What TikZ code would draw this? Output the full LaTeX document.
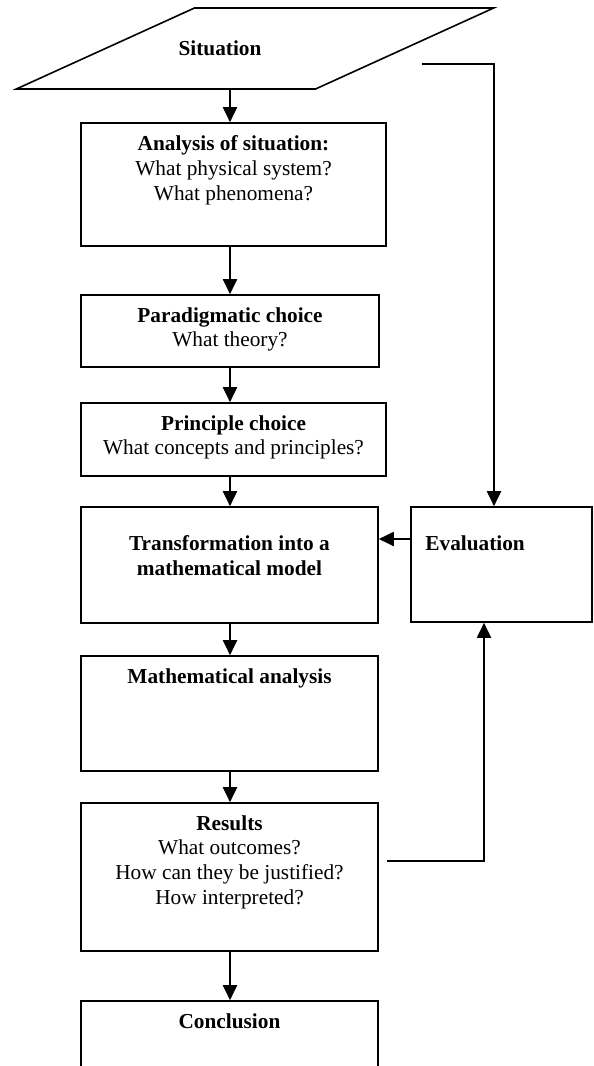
\documentclass[tikz,border=0pt]{standalone}
\usepackage{fontspec}
\setmainfont{Liberation Serif}
\usetikzlibrary{arrows.meta,shapes.geometric}

\tikzset{
	box/.style={draw,line width=1.6pt,rectangle,inner sep=0pt},
	boxtext/.style={anchor=north,align=center,inner sep=0pt,yshift=-13pt,font=\fontsize{21.3}{24.8}\selectfont},
	arr/.style={line width=1.9pt,-{Triangle[length=15pt,width=14pt]}}
}

\begin{document}
\begin{tikzpicture}[x=1pt,y=-1pt]
	\useasboundingbox (0,0) rectangle (594,1066);
	\clip (0,0) rectangle (594,1066);

	% Situation
	\node[draw,line width=1.6pt,trapezium,trapezium left angle=34.2,trapezium right angle=145.8,trapezium stretches,minimum width=478,minimum height=81,
		label={[boxtext,anchor=center,yshift=13pt,xshift=-35pt]center:\textbf{Situation}}] (situation) at (255,48.5) {};
	\coordinate (col) at (230,0);
	\coordinate (loopstart) at (422,64);

	% Main column
	\node[box,minimum width=305,minimum height=123,
		label={[boxtext]north:{\textbf{Analysis of situation:}\\What physical system?\\What phenomena?}}] (analysis) at (233.5,184.5) {};
	\node[box,minimum width=298,minimum height=72,
		label={[boxtext]north:{\textbf{Paradigmatic choice}\\What theory?}}] (paradigm) at (230,331) {};
	\node[box,minimum width=305,minimum height=73,
		label={[boxtext]north:{\textbf{Principle choice}\\What concepts and principles?}}] (principle) at (233.5,439.5) {};
	\node[box,minimum width=297,minimum height=116,
		label={[boxtext,yshift=-16.5pt]north:{\textbf{Transformation into a}\\\textbf{mathematical model}}}] (transform) at (229.5,565) {};
	\node[box,minimum width=297,minimum height=115,
		label={[boxtext]north:\textbf{Mathematical analysis}}] (mathan) at (229.5,713.5) {};
	\node[box,minimum width=297,minimum height=148,
		label={[boxtext]north:{\textbf{Results}\\What outcomes?\\How can they be justified?\\How interpreted?}}] (results) at (229.5,877) {};
	\node[box,minimum width=297,minimum height=130,
		label={[boxtext]north:\textbf{Conclusion}}] (conclusion) at (229.5,1066) {};

	% Evaluation
	\node[box,minimum width=181,minimum height=115,
		label={[boxtext,anchor=north west,xshift=15pt,yshift=-16pt]north west:\textbf{Evaluation}}] (evaluation) at (501.5,564.5) {};

	% Arrows
	\draw[arr] (situation.south -| col) -- (analysis.north -| col);
	\draw[arr] (analysis.south -| col) -- (paradigm.north -| col);
	\draw[arr] (paradigm.south -| col) -- (principle.north -| col);
	\draw[arr] (principle.south -| col) -- (transform.north -| col);
	\draw[arr] (transform.south -| col) -- (mathan.north -| col);
	\draw[arr] (mathan.south -| col) -- (results.north -| col);
	\draw[arr] (results.south -| col) -- (conclusion.north -| col);

	% Feedback loop
	\draw[arr] (loopstart) -| ([xshift=-7.5pt]evaluation.north);
	\draw[arr] ([yshift=25.5pt]evaluation.west) -- ([yshift=26pt]transform.east);
	\draw[arr] ([shift={(8pt,16pt)}]results.east) -| ([xshift=-17.5pt]evaluation.south);
\end{tikzpicture}
\end{document}
